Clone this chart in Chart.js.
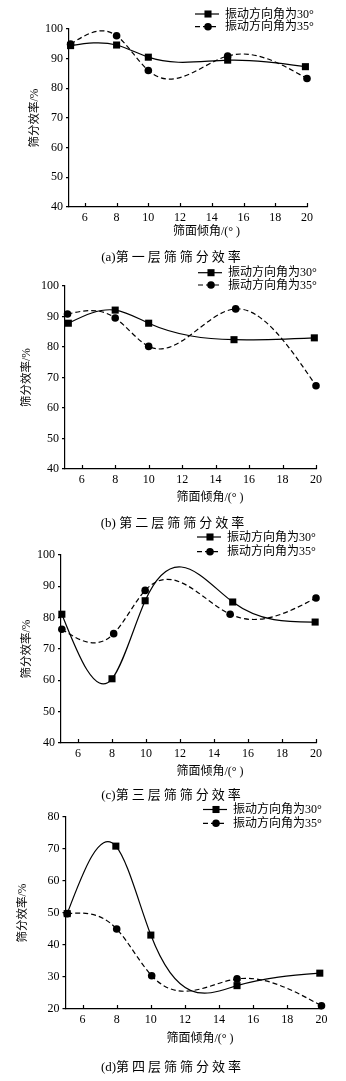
<!DOCTYPE html>
<html>
<head>
<meta charset="utf-8">
<script src="https://cdn.jsdelivr.net/npm/chart.js@4.4.1/dist/chart.umd.min.js"></script>
<style>
  html, body { margin: 0; padding: 0; background: #fff; }
  body { width: 346px; height: 1081px; position: relative; overflow: hidden; }
  .panel { position: absolute; left: 0; width: 346px; }
  .caption {
    position: absolute;
    transform: translate(-50%, -50%);
    white-space: nowrap;
    font-family: "Liberation Serif", "Noto Sans CJK SC", serif;
    font-size: 13px;
    line-height: 16px;
    color: #000;
  }
  .caption .cjk { letter-spacing: 3px; }
</style>
</head>
<body>
<div class="panel" id="p1"><canvas id="c1" width="346" height="245"></canvas></div>
<div class="panel" id="p2"><canvas id="c2" width="346" height="265"></canvas></div>
<div class="panel" id="p3"><canvas id="c3" width="346" height="275"></canvas></div>
<div class="panel" id="p4"><canvas id="c4" width="346" height="296"></canvas></div>

<script>
// screen inclination angle (deg) vs. screening efficiency (%) per deck
const xTickLabels = [6, 8, 10, 12, 14, 16, 18, 20];
const effTicksHigh = [40, 50, 60, 70, 80, 90, 100];
const effTicksLow = [20, 30, 40, 50, 60, 70, 80];
const seriesNames = ["振动方向角为30°", "振动方向角为35°"];
const captions = ["(a)第一层筛筛分效率", "(b) 第二层筛筛分效率", "(c)第三层筛筛分效率", "(d)第四层筛筛分效率"];

const layer1Angle30 = [5.1, 8, 10, 15, 19.9];
const layer1Eff30 = [94.4, 94.6, 90.5, 89.5, 87.3];
const layer1Angle35 = [5.1, 8, 10, 15, 20];
const layer1Eff35 = [94.9, 97.7, 86.0, 90.9, 83.3];

const layer2Angle30 = [5.2, 8, 10, 15.1, 19.9];
const layer2Eff30 = [87.8, 92.1, 87.8, 82.4, 83.0];
const layer2Angle35 = [5.15, 8, 10, 15.2, 20];
const layer2Eff35 = [90.8, 89.5, 80.2, 92.5, 67.3];

const layer3Angle30 = [5.05, 8, 9.95, 15.1, 19.95];
const layer3Eff30 = [81.1, 60.5, 85.4, 85.0, 78.6];
const layer3Angle35 = [5.05, 8.1, 9.95, 14.95, 20];
const layer3Eff35 = [76.3, 74.9, 88.7, 81.1, 86.3];

const layer4Angle30 = [5.1, 7.95, 10, 15.05, 19.9];
const layer4Eff30 = [49.8, 70.9, 43.1, 27.3, 31.2];
const layer4Angle35 = [5.1, 8, 10.05, 15.05, 20];
const layer4Eff35 = [49.8, 45.0, 30.4, 29.4, 21.0];

const SERIF = '"Liberation Serif", "Times New Roman", serif';
const MIXED = '"Liberation Serif", "Noto Sans CJK SC", sans-serif';
const X_AXIS_H = 32;

// page layout of each deck's plot box, titles and legend
const panels = [
  {
    canvas: "c1", div: "p1", top: 0, height: 245,
    plot: { left: 69, top: 29, right: 307, bottom: 207 },
    yTicks: effTicksHigh,
    series: [[layer1Angle30, layer1Eff30], [layer1Angle35, layer1Eff35]],
    yTitleX: 35, xTitle: { x: 206.5, y: 232.3 },
    legend: { x: 195, text: 225, rows: [14, 26.7] },
    caption: { x: 172.5, y: 257 },
  },
  {
    canvas: "c2", div: "p2", top: 245, height: 265,
    plot: { left: 65, top: 286, right: 316, bottom: 469 },
    yTicks: effTicksHigh,
    series: [[layer2Angle30, layer2Eff30], [layer2Angle35, layer2Eff35]],
    yTitleX: 27, xTitle: { x: 210, y: 498.3 },
    legend: { x: 198, text: 228, rows: [272.7, 285] },
    caption: { x: 174, y: 523.3 },
  },
  {
    canvas: "c3", div: "p3", top: 510, height: 275,
    plot: { left: 61, top: 555, right: 316, bottom: 743 },
    yTicks: effTicksHigh,
    series: [[layer3Angle30, layer3Eff30], [layer3Angle35, layer3Eff35]],
    yTitleX: 27, xTitle: { x: 210, y: 771.7 },
    legend: { x: 197, text: 227, rows: [537, 551.7] },
    caption: { x: 172.5, y: 795 },
  },
  {
    canvas: "c4", div: "p4", top: 785, height: 296,
    plot: { left: 65.5, top: 817, right: 321.5, bottom: 1009 },
    yTicks: effTicksLow,
    series: [[layer4Angle30, layer4Eff30], [layer4Angle35, layer4Eff35]],
    yTitleX: 22.5, xTitle: { x: 200, y: 1039.3 },
    legend: { x: 203, text: 233, rows: [809.5, 823.3] },
    caption: { x: 172.5, y: 1066.7 },
  },
];

function toPoints(xs, ys) {
  return xs.map((x, i) => ({ x: x, y: ys[i] }));
}

function drawMarker(ctx, style, radius, x, y) {
  ctx.beginPath();
  if (style === "rect") {
    const s = Math.SQRT1_2 * radius;
    ctx.rect(x - s, y - s, 2 * s, 2 * s);
  } else {
    ctx.arc(x, y, radius, 0, Math.PI * 2);
  }
  ctx.fill();
}

// natural cubic spline through the element positions, drawn as bezier pieces
const splineLines = {
  id: "splineLines",
  beforeDatasetsDraw(chart) {
    const ctx = chart.ctx;
    chart.data.datasets.forEach((ds, di) => {
      const pts = chart.getDatasetMeta(di).data.map((e) => ({ x: e.x, y: e.y }));
      const n = pts.length;
      const h = [];
      const M = new Array(n).fill(0);
      for (let i = 0; i < n - 1; i++) h.push(pts[i + 1].x - pts[i].x);

      const a = [], b = [], c = [], d = [];
      for (let i = 1; i < n - 1; i++) {
        a.push(h[i - 1]);
        b.push(2 * (h[i - 1] + h[i]));
        c.push(h[i]);
        d.push(6 * ((pts[i + 1].y - pts[i].y) / h[i] - (pts[i].y - pts[i - 1].y) / h[i - 1]));
      }
      const m = b.length;
      for (let i = 1; i < m; i++) {
        const w = a[i] / b[i - 1];
        b[i] -= w * c[i - 1];
        d[i] -= w * d[i - 1];
      }
      for (let i = m - 1; i >= 0; i--) {
        M[i + 1] = (d[i] - (i < m - 1 ? c[i] * M[i + 2] : 0)) / b[i];
      }
      const slope = (i) =>
        i < n - 1
          ? (pts[i + 1].y - pts[i].y) / h[i] - (h[i] * (2 * M[i] + M[i + 1])) / 6
          : (pts[i].y - pts[i - 1].y) / h[i - 1] + (h[i - 1] * (M[i - 1] + 2 * M[i])) / 6;

      ctx.save();
      ctx.strokeStyle = ds.borderColor;
      ctx.lineWidth = ds.borderWidth;
      ctx.setLineDash(ds.borderDash || []);
      ctx.beginPath();
      ctx.moveTo(pts[0].x, pts[0].y);
      for (let i = 0; i < n - 1; i++) {
        const k = h[i] / 3;
        ctx.bezierCurveTo(
          pts[i].x + k, pts[i].y + slope(i) * k,
          pts[i + 1].x - k, pts[i + 1].y - slope(i + 1) * k,
          pts[i + 1].x, pts[i + 1].y
        );
      }
      ctx.stroke();
      ctx.restore();
    });
  },
};

// inward x ticks, x-axis title and the line+marker legend
const panelExtras = {
  id: "panelExtras",
  afterDraw(chart, args, opts) {
    const ctx = chart.ctx;
    const xs = chart.scales.x;
    const area = chart.chartArea;
    ctx.save();
    ctx.strokeStyle = "#000";
    ctx.lineWidth = 1.2;
    xs.ticks.forEach((t) => {
      const px = Math.round(xs.getPixelForValue(t.value)) + 0.5;
      ctx.beginPath();
      ctx.moveTo(px, area.bottom);
      ctx.lineTo(px, area.bottom - 4);
      ctx.stroke();
    });

    ctx.fillStyle = "#000";
    ctx.font = "12px " + MIXED;
    ctx.textAlign = "center";
    ctx.textBaseline = "middle";
    ctx.fillText(opts.xTitle.text, opts.xTitle.x, opts.xTitle.y);

    ctx.font = "12px " + MIXED;
    ctx.textAlign = "left";
    chart.data.datasets.forEach((ds, i) => {
      const y = opts.legend.rows[i];
      const x0 = opts.legend.x;
      ctx.setLineDash(ds.borderDash || []);
      ctx.lineWidth = ds.borderWidth;
      ctx.beginPath();
      ctx.moveTo(x0, y);
      ctx.lineTo(x0 + 24, y);
      ctx.stroke();
      ctx.setLineDash([]);
      drawMarker(ctx, ds.pointStyle, ds.pointRadius, x0 + 13, y);
      ctx.fillText(ds.label, opts.legend.text, y + 0.5);
    });
    ctx.restore();
  },
};

function makeChart(p, idx) {
  document.getElementById(p.div).style.top = p.top + "px";
  const cap = document.createElement("div");
  cap.className = "caption";
  cap.style.left = p.caption.x + "px";
  cap.style.top = p.caption.y + "px";
  const text = captions[idx];
  const cut = text.search(/[\u4e00-\u9fff]/);
  const head = document.createElement("span");
  head.textContent = text.slice(0, cut);
  const body = document.createElement("span");
  body.className = "cjk";
  body.textContent = text.slice(cut);
  cap.appendChild(head);
  cap.appendChild(body);
  document.body.appendChild(cap);

  const yMin = p.yTicks[0];
  const yMax = p.yTicks[p.yTicks.length - 1];

  new Chart(document.getElementById(p.canvas), {
    type: "line",
    data: {
      datasets: [
        {
          label: seriesNames[0],
          data: toPoints(p.series[0][0], p.series[0][1]),
          showLine: false,
          borderColor: "#000",
          backgroundColor: "#000",
          borderWidth: 1.2,
          pointStyle: "rect",
          pointRadius: 5,
          pointBorderWidth: 0,
          pointBackgroundColor: "#000",
          clip: false,
        },
        {
          label: seriesNames[1],
          data: toPoints(p.series[1][0], p.series[1][1]),
          showLine: false,
          borderColor: "#000",
          backgroundColor: "#000",
          borderWidth: 1.2,
          borderDash: [5, 3],
          pointStyle: "circle",
          pointRadius: 3.8,
          pointBorderWidth: 0,
          pointBackgroundColor: "#000",
          clip: false,
        },
      ],
    },
    options: {
      responsive: false,
      animation: false,
      layout: {
        padding: {
          left: 0,
          top: p.plot.top - p.top,
          right: 346 - p.plot.right,
          bottom: p.height - (p.plot.bottom - p.top) - X_AXIS_H,
        },
      },
      plugins: {
        legend: { display: false },
        tooltip: { enabled: false },
        panelExtras: {
          xTitle: { text: "筛面倾角/(° )", x: p.xTitle.x, y: p.xTitle.y - p.top },
          legend: { x: p.legend.x, text: p.legend.text, rows: p.legend.rows.map((r) => r - p.top) },
        },
      },
      scales: {
        x: {
          type: "linear",
          min: 5,
          max: 20,
          afterBuildTicks: (s) => { s.ticks = xTickLabels.map((v) => ({ value: v })); },
          afterFit: (s) => { s.height = X_AXIS_H; },
          grid: { display: false, drawTicks: false, tickLength: 0 },
          border: { display: true, color: "#000", width: 1.2 },
          ticks: { font: { family: SERIF, size: 12 }, color: "#000", padding: 4, maxRotation: 0, autoSkip: false },
        },
        y: {
          min: yMin,
          max: yMax,
          afterBuildTicks: (s) => { s.ticks = p.yTicks.map((v) => ({ value: v })); },
          afterFit: (s) => { s.width = p.plot.left; },
          grid: { drawOnChartArea: false, drawTicks: true, tickLength: 3, color: "#000", lineWidth: 1.2 },
          border: { display: true, color: "#000", width: 1.2 },
          ticks: { font: { family: SERIF, size: 12 }, color: "#000", padding: 3 },
          title: {
            display: true,
            text: "筛分效率/%",
            color: "#000",
            font: { family: MIXED, size: 11.5, lineHeight: 1.2 },
            padding: { top: p.yTitleX - 6.9, bottom: 0 },
          },
        },
      },
    },
    plugins: [splineLines, panelExtras],
  });
}

panels.forEach(makeChart);
</script>
</body>
</html>
